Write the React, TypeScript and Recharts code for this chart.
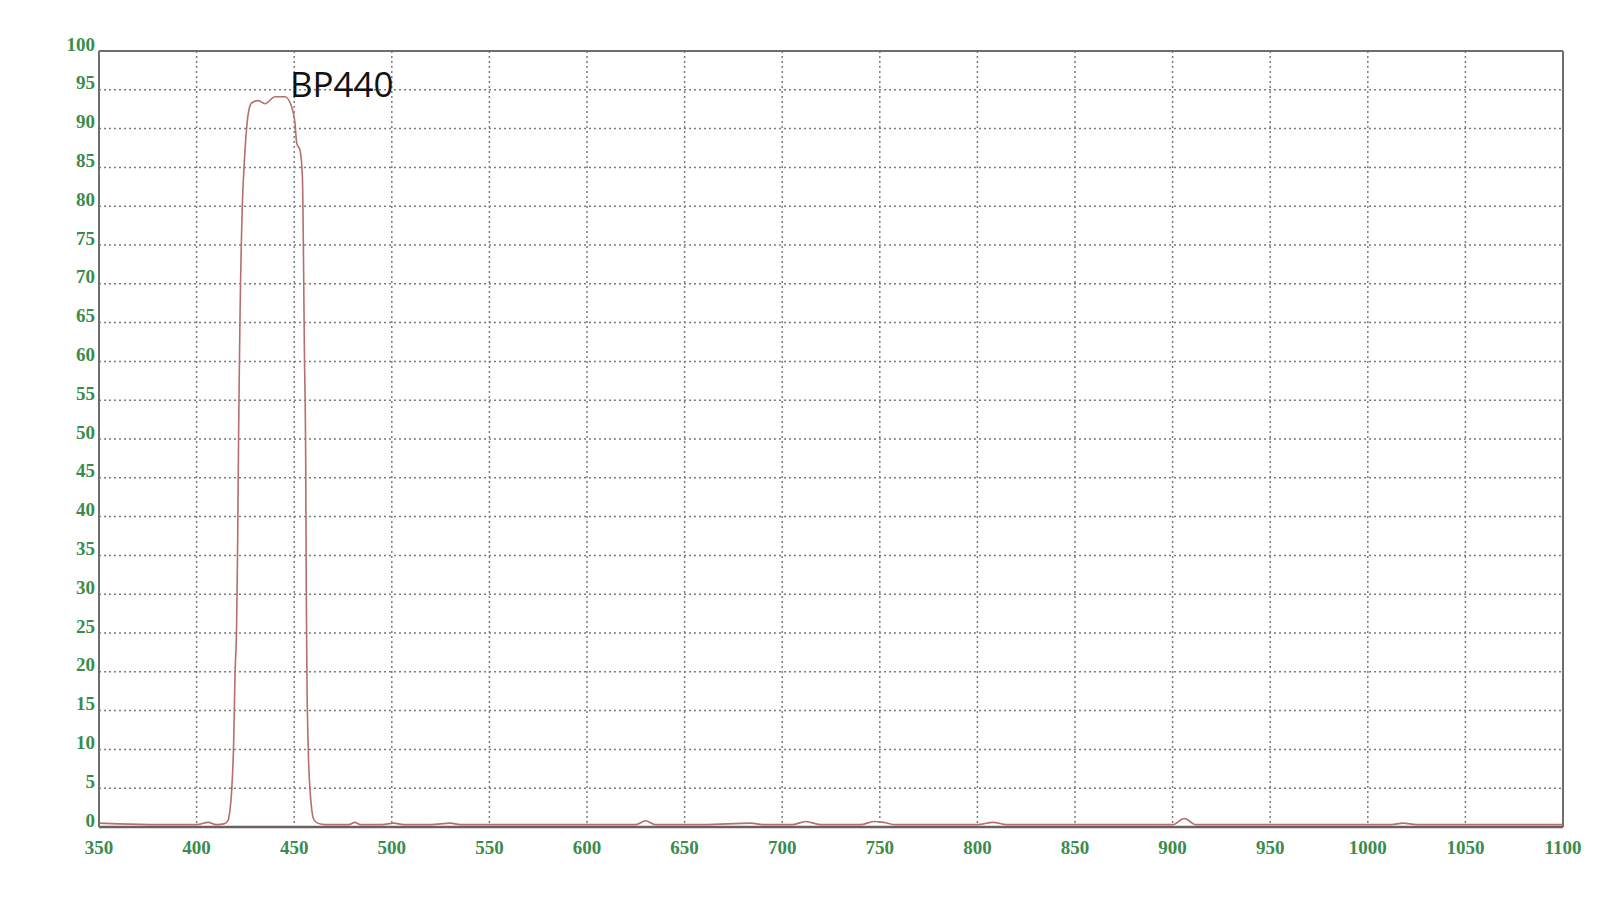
import React from "react";
import {
  LineChart,
  Line,
  XAxis,
  YAxis,
  CartesianGrid,
  ReferenceLine,
  ReferenceDot,
} from "recharts";

// wavelength (nm) and transmission (%)
const wavelength = [
  350, 360, 380, 400, 406, 410, 414, 416.2, 417, 418, 419, 419.7, 420.5, 421,
  421.5, 421.8, 422.2, 422.5, 422.9, 423.4, 424.3, 425.6, 426.5, 428.2, 431.6,
  435, 440.2, 445.3, 448.7, 450.4, 451.3, 453, 454.2, 454.7, 455.2, 455.9,
  456.2, 456.5, 457.2, 458.1, 459, 460, 462, 466, 470, 478, 481, 484, 495, 501,
  506, 520, 530, 535, 560, 590, 610, 625, 630, 635, 660, 684, 690, 705, 712,
  720, 740, 747, 752, 758, 780, 800, 808, 815, 840, 870, 900, 906, 912, 940,
  980, 1012, 1018, 1025, 1060, 1100,
];
const transmission = [
  0.5, 0.4, 0.3, 0.3, 0.6, 0.3, 0.4, 0.9, 2, 4.8, 11, 19.8, 26, 36, 50, 57, 65,
  70, 75, 80, 85, 90, 92, 93.3, 93.6, 93.2, 94.1, 94.1, 92.8, 90.7, 88.1, 87.2,
  83.8, 74.8, 61.9, 47, 30, 20, 10, 4.8, 2.2, 1, 0.5, 0.3, 0.3, 0.3, 0.6, 0.3,
  0.3, 0.5, 0.3, 0.3, 0.5, 0.3, 0.3, 0.3, 0.3, 0.3, 0.8, 0.3, 0.3, 0.5, 0.3,
  0.3, 0.7, 0.3, 0.3, 0.7, 0.6, 0.3, 0.3, 0.3, 0.6, 0.3, 0.3, 0.3, 0.3, 1.1,
  0.3, 0.3, 0.3, 0.3, 0.5, 0.3, 0.3, 0.3,
];

const xTicks = [
  350, 400, 450, 500, 550, 600, 650, 700, 750, 800, 850, 900, 950, 1000, 1050,
  1100,
];
const yTicks = [
  0, 5, 10, 15, 20, 25, 30, 35, 40, 45, 50, 55, 60, 65, 70, 75, 80, 85, 90, 95,
  100,
];

const filterName = "BP440";
const labelAnchor = { nm: 447.8, pct: 94.1 };

const data = wavelength.map((nm, i) => ({ nm, t: transmission[i] }));

const TICK_GREEN = "#3a8c4c";
const GRID = "#7c7c7c";
const FRAME = "#6e6e6e";
const CURVE = "#b66f6d";

const YTick = (props: any) => {
  const { x, y, payload } = props;
  return (
    <text
      x={x}
      y={y - 7}
      textAnchor="end"
      dominantBaseline="central"
      fill={TICK_GREEN}
      fontFamily="'Liberation Serif', serif"
      fontWeight="bold"
      fontSize={19}
    >
      {payload.value}
    </text>
  );
};

const XTick = (props: any) => {
  const { x, y, payload } = props;
  return (
    <text
      x={x}
      y={y}
      textAnchor="middle"
      dominantBaseline="central"
      fill={TICK_GREEN}
      fontFamily="'Liberation Serif', serif"
      fontWeight="bold"
      fontSize={19}
    >
      {payload.value}
    </text>
  );
};

const NameLabel = (props: any) => {
  const { viewBox } = props;
  return (
    <text
      x={viewBox.x}
      y={viewBox.y}
      fill="#111"
      fontFamily="'Open Sans', sans-serif"
      fontSize={35}
    >
      {filterName}
    </text>
  );
};

export default function App() {
  return (
    <div
      style={{
        position: "absolute",
        left: 0,
        top: 0,
        width: 1600,
        height: 900,
        background: "#fff",
      }}
    >
      <LineChart
        width={1600}
        height={900}
        data={data}
        margin={{ top: 51, right: 37, left: 0, bottom: 33 }}
      >
        <CartesianGrid stroke={GRID} strokeWidth={1.5} strokeDasharray="2 3" />
        <XAxis
          dataKey="nm"
          type="number"
          domain={[350, 1100]}
          ticks={xTicks}
          height={40}
          tickSize={0}
          tickMargin={20}
          tickLine={false}
          axisLine={{ stroke: "#6c5f5f", strokeWidth: 2.5 }}
          tick={<XTick />}
          interval={0}
        />
        <YAxis
          type="number"
          domain={[0, 100]}
          ticks={yTicks}
          width={99}
          tickSize={0}
          tickMargin={4}
          tickLine={false}
          axisLine={{ stroke: FRAME, strokeWidth: 2 }}
          tick={<YTick />}
          interval={0}
        />
        <ReferenceLine y={100} stroke={FRAME} strokeWidth={2} />
        <ReferenceLine x={1100} stroke={FRAME} strokeWidth={2} />
        <Line
          type="monotone"
          dataKey="t"
          stroke={CURVE}
          strokeWidth={1.6}
          dot={false}
          isAnimationActive={false}
        />
        <ReferenceDot
          x={labelAnchor.nm}
          y={labelAnchor.pct}
          r={0}
          fill="none"
          stroke="none"
          label={<NameLabel />}
        />
      </LineChart>
    </div>
  );
}
